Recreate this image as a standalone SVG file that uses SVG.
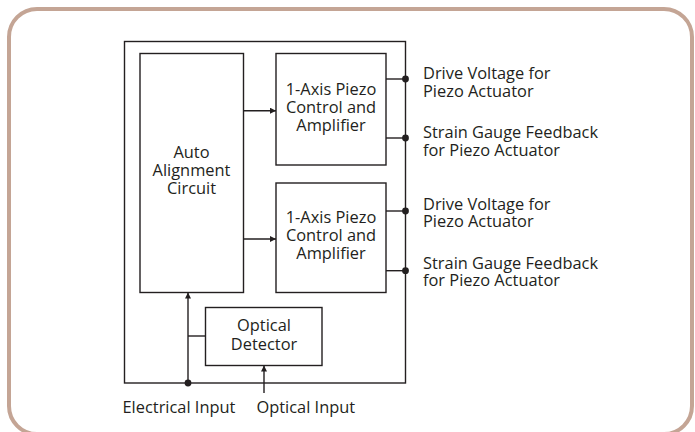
<svg xmlns="http://www.w3.org/2000/svg" width="695" height="432" viewBox="0 0 695 432">
<defs>
<marker id="ah" viewBox="0 0 10 10" refX="10" refY="5" markerWidth="7" markerHeight="6" markerUnits="userSpaceOnUse" orient="auto"><path d="M0,0 L10,5 L0,10 z" fill="#231f20"/></marker>
</defs>
<style>
.b{fill:none;stroke:#231f20;stroke-width:1.4}
.w{fill:#fff;stroke:#231f20;stroke-width:1.4}
.c{fill:none;stroke:#231f20;stroke-width:1.4}
.d{fill:#231f20}
text{font-family:"Open Sans","Noto Sans","Liberation Sans",sans-serif;font-size:16.4px;fill:#231f20}
.m{text-anchor:middle}
</style>
<rect x="0" y="0" width="695" height="432" fill="#fff"/>
<rect id="frame" x="9" y="9" width="683" height="425" rx="28" ry="28" fill="#fff" stroke="#c4a595" stroke-width="4"/>
<g id="system"><rect class="b" x="124.5" y="41.5" width="281" height="341.5"/></g>
<g id="auto"><rect class="w" x="140" y="53.5" width="103.5" height="239"/>
<text class="m" x="191.5" y="158">Auto<tspan x="191.5" dy="18">Alignment</tspan><tspan x="191.5" dy="18">Circuit</tspan></text></g>
<g id="piezo1"><rect class="w" x="276" y="53.5" width="110" height="111.5"/>
<text class="m" x="331" y="95">1-Axis Piezo<tspan x="331" dy="18">Control and</tspan><tspan x="331" dy="18">Amplifier</tspan></text></g>
<g id="piezo2"><rect class="w" x="276" y="183" width="110" height="109.5"/>
<text class="m" x="331" y="223">1-Axis Piezo<tspan x="331" dy="18">Control and</tspan><tspan x="331" dy="18">Amplifier</tspan></text></g>
<g id="detector"><rect class="w" x="205.5" y="307.5" width="116.5" height="58"/>
<text class="m" x="264" y="331">Optical<tspan x="264" dy="18.5">Detector</tspan></text></g>
<g id="connectors">
<line class="c" x1="243.5" y1="110.7" x2="276" y2="110.7" marker-end="url(#ah)"/>
<line class="c" x1="243.5" y1="239" x2="276" y2="239" marker-end="url(#ah)"/>
<line class="c" x1="386" y1="79" x2="405.5" y2="79"/>
<line class="c" x1="386" y1="138" x2="405.5" y2="138"/>
<line class="c" x1="386" y1="211" x2="405.5" y2="211"/>
<line class="c" x1="386" y1="270.7" x2="405.5" y2="270.7"/>
<circle class="d" cx="405.5" cy="79" r="3.4"/>
<circle class="d" cx="405.5" cy="138" r="3.4"/>
<circle class="d" cx="405.5" cy="211" r="3.4"/>
<circle class="d" cx="405.5" cy="270.7" r="3.4"/>
<line class="c" x1="188" y1="383" x2="188" y2="292.5" marker-end="url(#ah)"/>
<line class="c" x1="188" y1="336" x2="205.5" y2="336"/>
<circle class="d" cx="188" cy="383" r="3.4"/>
<line class="c" x1="264" y1="393" x2="264" y2="365.5" marker-end="url(#ah)"/>
</g>
<g id="labels">
<text x="423" y="79">Drive Voltage for<tspan x="423" dy="17.5">Piezo Actuator</tspan></text>
<text x="423" y="138">Strain Gauge Feedback<tspan x="423" dy="17.5">for Piezo Actuator</tspan></text>
<text x="423" y="209.5">Drive Voltage for<tspan x="423" dy="17.5">Piezo Actuator</tspan></text>
<text x="423" y="268.5">Strain Gauge Feedback<tspan x="423" dy="17.5">for Piezo Actuator</tspan></text>
<text x="122.5" y="413">Electrical Input</text>
<text x="256.5" y="413">Optical Input</text>
</g>
</svg>
